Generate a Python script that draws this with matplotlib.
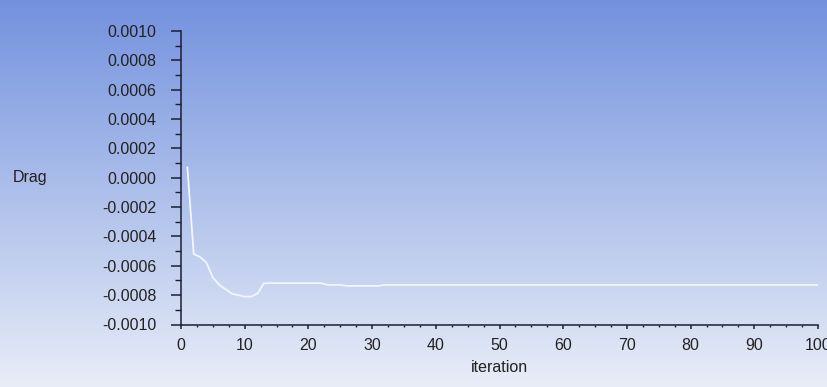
import matplotlib
matplotlib.use("Agg")
import matplotlib.pyplot as plt
import numpy as np
from matplotlib.ticker import MultipleLocator, FuncFormatter

# drag monitor history
iteration = list(range(1, 101))
drag = [0.00007, -0.00052, -0.00054, -0.00058, -0.00068, -0.00073, -0.00076,
        -0.00079, -0.00080, -0.00081, -0.00081, -0.00079, -0.00072]
drag += [-0.000718] * 9      # 14..22
drag += [-0.00073] * 3       # 23..25
drag += [-0.000737] * 6      # 26..31
drag += [-0.00073] * 69      # 32..100

y_ticks = [-0.0010, -0.0008, -0.0006, -0.0004, -0.0002, 0.0, 0.0002, 0.0004, 0.0006, 0.0008, 0.0010]
x_ticks = [0, 10, 20, 30, 40, 50, 60, 70, 80, 90, 100]

plt.rcParams['font.family'] = ['Liberation Sans', 'DejaVu Sans']

fig = plt.figure(figsize=(8.27, 3.87), dpi=100)

# gradient background
bg = fig.add_axes([0, 0, 1, 1], zorder=-1)
top = np.array([0.45, 0.57, 0.87])
bot = np.array([0.91, 0.93, 0.97])
t = np.linspace(0, 1, 256)[:, None]
grad = top * (1 - t) + bot * t
bg.imshow(grad[:, None, :], aspect='auto', extent=[0, 1, 0, 1])
bg.axis('off')

ax = fig.add_axes([181 / 827, 1 - 324.5 / 387, 637 / 827, 293.5 / 387])
ax.patch.set_alpha(0)
ax.plot(iteration, drag, color='#f2f6ff', lw=1.3)

ax.set_xlim(0, 100)
ax.set_ylim(-0.0010, 0.0010)
ax.set_xticks(x_ticks)
ax.set_yticks(y_ticks)
ax.xaxis.set_minor_locator(MultipleLocator(2.5))
ax.yaxis.set_minor_locator(MultipleLocator(0.0001))
ax.yaxis.set_major_formatter(FuncFormatter(lambda v, p: '%.4f' % (0.0 if abs(v) < 1e-12 else v)))

for s in ['top', 'right']:
    ax.spines[s].set_visible(False)
for s in ['left', 'bottom']:
    ax.spines[s].set_color('#1c1f33')
    ax.spines[s].set_linewidth(1.1)

ax.tick_params(axis='y', which='major', length=7.2, width=1.1, pad=10.5,
               colors='#1c1f33', labelsize=11.5, labelcolor='#222222')
ax.tick_params(axis='y', which='minor', length=4.3, width=1.0, colors='#1c1f33')
ax.tick_params(axis='x', which='major', length=3, width=1.1, pad=7,
               colors='#1c1f33', labelsize=11.5, labelcolor='#222222')
ax.tick_params(axis='x', which='minor', length=1.6, width=1.0, colors='#1c1f33')

ax.set_xlabel('iteration', fontsize=11.5, color='#222222', labelpad=4.5)
ax.set_ylabel('Drag', fontsize=11.5, color='#222222', rotation=0, ha='left', va='center')
ax.yaxis.set_label_coords(-168 / 637, 0.5)

fig.savefig('out.png', dpi=100)
